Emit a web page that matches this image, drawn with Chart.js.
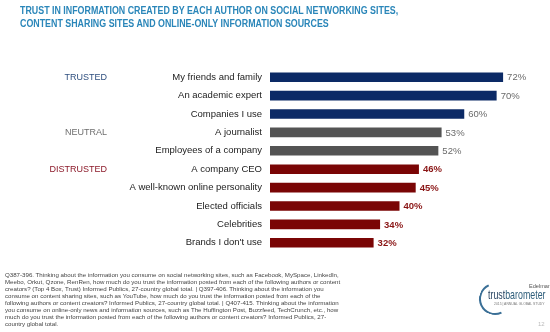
<!DOCTYPE html>
<html>
<head>
<meta charset="utf-8">
<script src="https://cdn.jsdelivr.net/npm/chart.js@4"></script>
<style>
  html, body { margin: 0; padding: 0; background: #fff; }
  body { width: 550px; height: 332px; position: relative; overflow: hidden; font-family: "Liberation Sans", Arial, sans-serif; }
  #c { position: absolute; left: 0; top: 0; }
  .title { position: absolute; left: 20px; top: 4px; color: #2a86b9; font-weight: bold; font-size: 10.4px; line-height: 13px; white-space: nowrap; transform: scaleX(0.853); transform-origin: 0 0; }
  .foot { position: absolute; left: 5px; top: 271px; color: #444; font-size: 6.15px; line-height: 7px; white-space: pre; }
  .logo-ed { position: absolute; left: 529px; top: 283px; font-size: 5.6px; color: #555; }
  .logo-tb { position: absolute; left: 488px; top: 288px; font-size: 13px; line-height: 14px; color: #1f3c5a; white-space: nowrap; transform: scaleX(0.68); transform-origin: 0 0; }
  .logo-tb b { font-weight: normal; color: #2d5d7a; }
  .logo-sub { position: absolute; left: 494px; top: 302px; font-size: 3.4px; color: #777; white-space: nowrap; }
  .logo-arc { position: absolute; left: 479px; top: 283px; width: 32px; height: 32px; border-radius: 50%; border: 2px solid transparent; border-left-color: #3a6f96; border-bottom-color: #3a6f96; transform: rotate(20deg); box-sizing: border-box; }
  .pg { position: absolute; left: 538px; top: 321px; font-size: 6px; color: #bbb; }
</style>
</head>
<body>
<canvas id="c" width="550" height="332"></canvas>
<div class="title">TRUST IN INFORMATION CREATED BY EACH AUTHOR ON SOCIAL NETWORKING SITES,<br>CONTENT SHARING SITES AND ONLINE-ONLY INFORMATION SOURCES</div>
<div class="foot" id="foot"></div>
<div class="logo-arc"></div>
<div class="logo-ed">Edelman</div>
<div class="logo-tb">trust<b>barometer</b></div>
<div class="logo-sub">2015 | ANNUAL GLOBAL STUDY</div>
<div class="pg">12</div>
<script>
// ---- data ----
const categories = [
  "My friends and family",
  "An academic expert",
  "Companies I use",
  "A journalist",
  "Employees of a company",
  "A company CEO",
  "A well-known online personality",
  "Elected officials",
  "Celebrities",
  "Brands I don't use"
];
const values = [72, 70, 60, 53, 52, 46, 45, 40, 34, 32];
const groups = ["trusted", "trusted", "trusted", "neutral", "neutral", "distrusted", "distrusted", "distrusted", "distrusted", "distrusted"];
const groupLabels = ["TRUSTED", "NEUTRAL", "DISTRUSTED"];
const groupStart = [0, 3, 5];
const footLines = [
  "Q387-396. Thinking about the information you consume on social networking sites, such as Facebook, MySpace, LinkedIn,",
  "Meebo, Orkut, Qzone, RenRen, how much do you trust the information posted from each of the following authors or content",
  "creators? (Top 4 Box, Trust) Informed Publics, 27-country global total. | Q397-406. Thinking about the information you",
  "consume on content sharing sites, such as YouTube, how much do you trust the information posted from each of the",
  "following authors or content creators? Informed Publics, 27-country global total. | Q407-415. Thinking about the information",
  "you consume on online-only news and information sources, such as The Huffington Post, Buzzfeed, TechCrunch, etc., how",
  "much do you trust the information posted from each of the following authors or content creators? Informed Publics, 27-",
  "country global total."
];

document.getElementById('foot').textContent = footLines.join("\n");

const barColor = { trusted: "#0c2a66", neutral: "#545454", distrusted: "#7a0505" };
const labelColor = { trusted: "#6a6a6a", neutral: "#6a6a6a", distrusted: "#8a1515" };
const groupColor = ["#2f4f7f", "#6e6e6e", "#8c1a2a"];

const extras = {
  id: 'extras',
  afterDatasetsDraw(chart) {
    const ctx = chart.ctx;
    const meta = chart.getDatasetMeta(0);
    ctx.save();
    ctx.textBaseline = 'middle';
    ctx.textAlign = 'left';
    meta.data.forEach((bar, i) => {
      const g = groups[i];
      ctx.font = (g === 'distrusted' ? 'bold ' : '') + '9.5px "Liberation Sans", Arial, sans-serif';
      ctx.fillStyle = labelColor[g];
      ctx.fillText(values[i] + '%', bar.x + 4, bar.y + 0.5);
    });
    const ys = chart.scales.y;
    ctx.textAlign = 'right';
    ctx.font = '9px "Liberation Sans", Arial, sans-serif';
    groupLabels.forEach((t, k) => {
      ctx.fillStyle = groupColor[k];
      ctx.fillText(t, 107, ys.getPixelForValue(groupStart[k]) + 0.5);
    });
    ctx.restore();
  }
};

new Chart(document.getElementById('c'), {
  type: 'bar',
  data: {
    labels: categories,
    datasets: [{
      data: values,
      backgroundColor: groups.map(g => barColor[g]),
      borderWidth: 0,
      categoryPercentage: 1,
      barPercentage: 0.52
    }]
  },
  options: {
    indexAxis: 'y',
    responsive: false,
    animation: false,
    layout: { padding: { top: 68, bottom: 80, left: 0, right: 21 } },
    plugins: { legend: { display: false }, tooltip: { enabled: false } },
    scales: {
      x: { display: false, min: 0, max: 80 },
      y: {
        grid: { display: false, drawTicks: false },
        border: { display: false },
        ticks: {
          color: '#222',
          font: { family: '"Liberation Sans", Arial, sans-serif', size: 9.5 },
          padding: 8
        },
        afterFit(scale) { scale.width = 270; }
      }
    }
  },
  plugins: [extras]
});
</script>
</body>
</html>
